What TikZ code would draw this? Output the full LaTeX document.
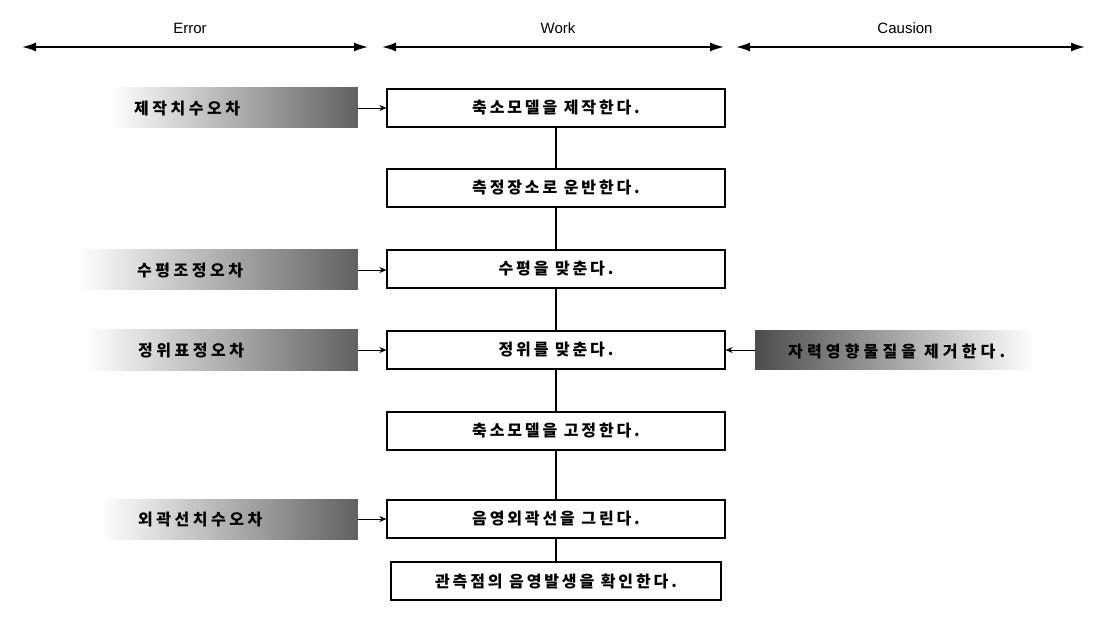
\documentclass[tikz,border=0pt]{standalone}
\usepackage{fontspec}
\setmainfont{Liberation Sans}
\newfontfamily\krw[LetterSpace=18]{Noto Sans CJK KR}
\newfontfamily\kre[LetterSpace=22]{Noto Sans CJK KR}
\newfontfamily\krc[LetterSpace=26]{Noto Sans CJK KR}
\usetikzlibrary{arrows.meta}
\begin{document}
\begin{tikzpicture}[x=1pt,y=-1pt,
  hdr/.style={font=\fontsize{15}{17}\selectfont, inner sep=0pt},
  harrow/.style={line width=1.6pt, {Latex[length=14pt,width=9pt]}-{Latex[length=14pt,width=9pt]}},
  work/.style={draw, line width=1.2pt, minimum width=338pt, minimum height=38pt, inner sep=0pt, font=\krw\bfseries\fontsize{16}{18}\selectfont},
  link/.style={line width=1.2pt},
  errbox/.style={minimum height=40pt, inner sep=0pt, left color=white, right color=black!62, draw=none},
  cbox/.style={minimum height=38pt, inner sep=0pt, left color=black!70, right color=white, draw=none},
  etext/.style={font=\kre\bfseries\fontsize{16}{18}\selectfont, inner sep=0pt},
  ctext/.style={font=\krc\bfseries\fontsize{16}{18}\selectfont, inner sep=0pt},
  earrow/.style={line width=0.9pt, -{Stealth[length=7pt,width=6pt]}}
]
\useasboundingbox (0,0) rectangle (1095,620);

% headers
\node[hdr] (hE) at (190,28) {Error};
\node[hdr] (hW) at (558,28) {Work};
\node[hdr] (hC) at (905,28) {Causion};
\coordinate (aE1) at (22,47);  \coordinate (aE2) at (368,47);
\coordinate (aW1) at (382,47); \coordinate (aW2) at (724,47);
\coordinate (aC1) at (736,47); \coordinate (aC2) at (1085,47);
\draw[harrow] (aE1) -- (aE2);
\draw[harrow] (aW1) -- (aW2);
\draw[harrow] (aC1) -- (aC2);

% work boxes
\node[work] (w1) at (556,108) {축소모델을 제작한다.};
\node[work] (w2) at (556,188) {측정장소로 운반한다.};
\node[work] (w3) at (556,269) {수평을 맞춘다.};
\node[work] (w4) at (556,350) {정위를 맞춘다.};
\node[work] (w5) at (556,431) {축소모델을 고정한다.};
\node[work] (w6) at (556,519) {음영외곽선을 그린다.};
\node[work, minimum width=330pt] (w7) at (556,581) {관측점의 음영발생을 확인한다.};
\draw[link] (w1) -- (w2);
\draw[link] (w2) -- (w3);
\draw[link] (w3) -- (w4);
\draw[link] (w4) -- (w5);
\draw[link] (w5) -- (w6);
\draw[link] (w6) -- (w7);

% error boxes
\node[errbox, minimum width=248pt, anchor=east] (e1) at (358,108) {};
\node[errbox, minimum width=281pt, anchor=east] (e2) at (358,270) {};
\node[errbox, minimum width=273pt, anchor=east] (e3) at (358,350) {};
\node[errbox, minimum width=258pt, anchor=east] (e4) at (358,519) {};
\node[etext, anchor=west] (e1t) at (134,109) {제작치수오차};
\node[etext, anchor=west] (e2t) at (137,271) {수평조정오차};
\node[etext, anchor=west] (e3t) at (138,351) {정위표정오차};
\node[etext, anchor=west] (e4t) at (138,520) {외곽선치수오차};
\draw[earrow] (e1.east) -- (w1.west);
\draw[earrow] (e2.east) -- (w2.west |- e2.east);
\draw[earrow] (e3.east) -- (w4.west);
\draw[earrow] (e4.east) -- (w6.west);

% causion box
\node[cbox, minimum width=280pt, anchor=west] (c1) at (755,350) {};
\node[ctext, anchor=west] (c1t) at (788,351) {자력영향물질을 제거한다.};
\draw[earrow] (c1.west) -- (w4.east);
\end{tikzpicture}
\end{document}
